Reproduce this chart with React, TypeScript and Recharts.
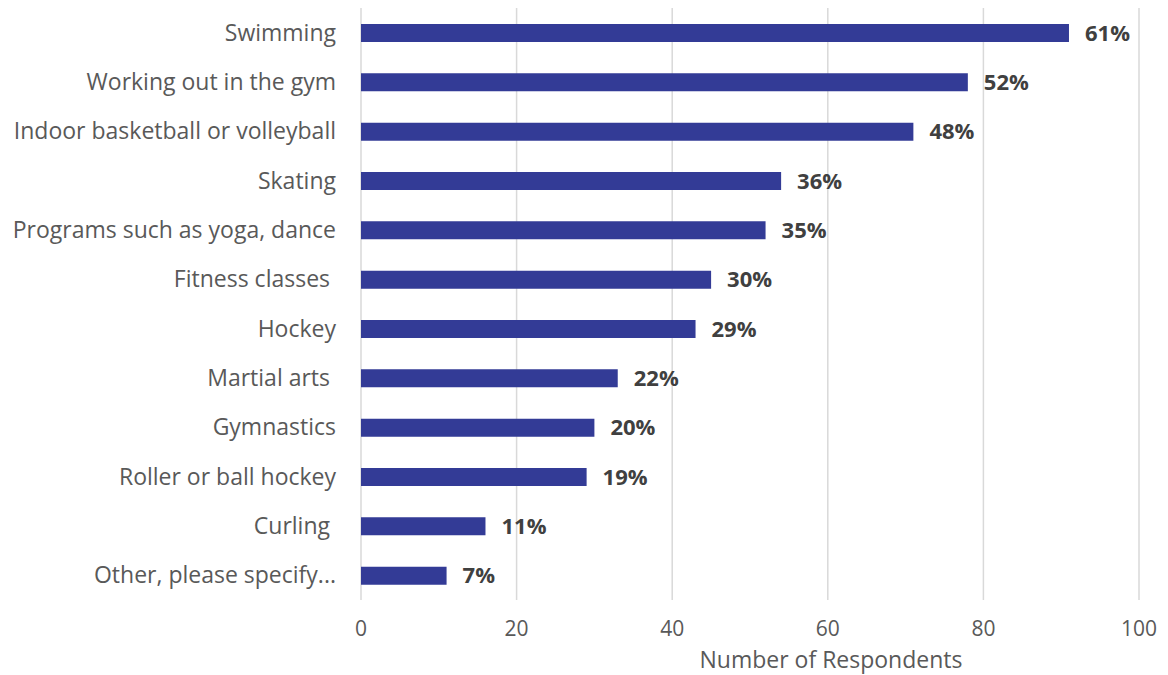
import React from "react";
import { BarChart, Bar, XAxis, YAxis, CartesianGrid, LabelList } from "recharts";

const categories = [
  "Swimming",
  "Working out in the gym",
  "Indoor basketball or volleyball",
  "Skating",
  "Programs such as yoga, dance",
  "Fitness classes ",
  "Hockey",
  "Martial arts ",
  "Gymnastics",
  "Roller or ball hockey",
  "Curling ",
  "Other, please specify...",
];
const respondents = [91, 78, 71, 54, 52, 45, 43, 33, 30, 29, 16, 11];
const percents = ["61%", "52%", "48%", "36%", "35%", "30%", "29%", "22%", "20%", "19%", "11%", "7%"];
const xTicks = [0, 20, 40, 60, 80, 100];

const data = categories.map((name, i) => ({ name, value: respondents[i], pct: percents[i] }));

const font = "'Open Sans', Lato, sans-serif";

export default function App() {
  return (
    <div style={{ position: "absolute", left: 0, top: 0, background: "#fff" }}>
      <BarChart
        width={1168}
        height={675}
        data={data}
        layout="vertical"
        margin={{ top: 8, right: 29, bottom: 0, left: 0 }}
        barSize={18}
      >
        <CartesianGrid horizontal={false} stroke="#d9d9d9" strokeWidth={1.5} />
        <XAxis
          type="number"
          domain={[0, 100]}
          ticks={xTicks}
          axisLine={false}
          tickLine={false}
          height={75}
          tickMargin={15}
          tick={{ fill: "#595959", fontSize: 21, fontFamily: font }}
          label={{
            content: ({ viewBox }: any) => (
              <text
                x={viewBox.x + viewBox.width / 2 + 81}
                y={viewBox.y + viewBox.height - 7}
                textAnchor="middle"
                fill="#595959"
                fontSize={23}
                fontFamily={font}
              >
                Number of Respondents
              </text>
            ),
          }}
        />
        <YAxis
          type="category"
          dataKey="name"
          width={361}
          axisLine={false}
          tickLine={false}
          tickMargin={19}
          interval={0}
          tick={{ fill: "#595959", fontSize: 23, fontFamily: font, style: { whiteSpace: "pre" } }}
        />
        <Bar dataKey="value" fill="#333B96" isAnimationActive={false}>
          <LabelList
            dataKey="pct"
            position="right"
            offset={16}
            fill="#404040"
            fontSize={22}
            fontWeight="bold"
            fontFamily={font}
          />
        </Bar>
      </BarChart>
    </div>
  );
}
